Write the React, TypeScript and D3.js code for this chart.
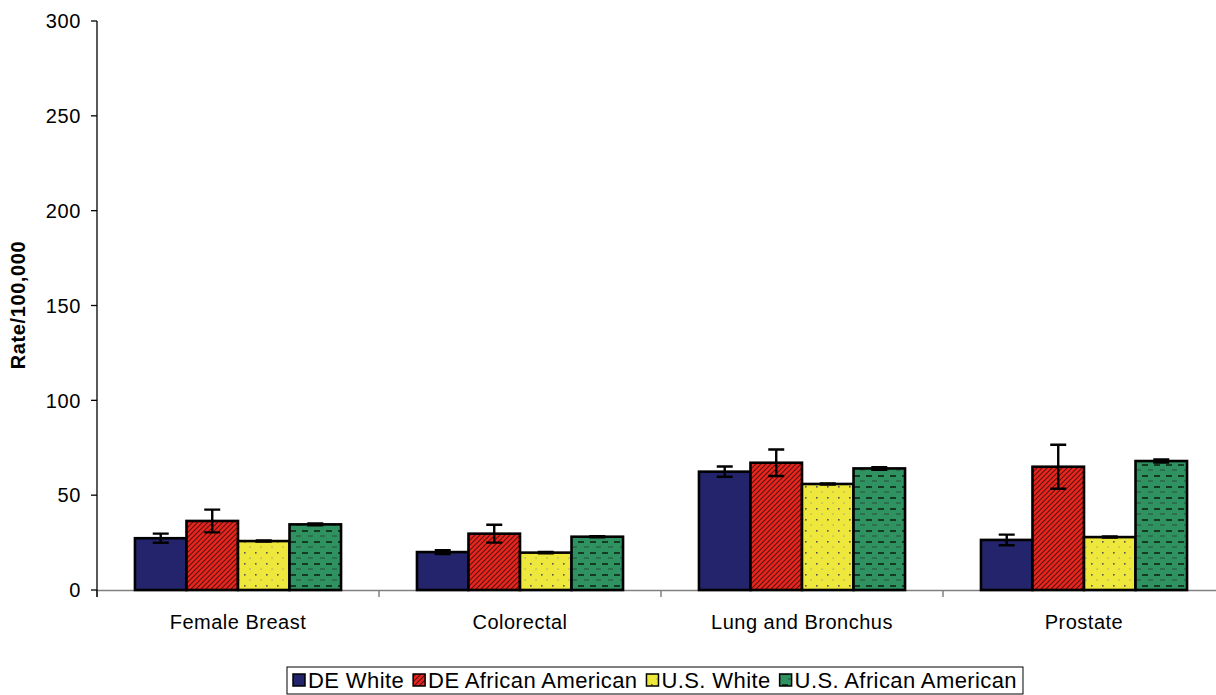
import React, { useEffect, useRef } from "react";
import * as d3 from "d3";

const categories = ["Female Breast", "Colorectal", "Lung and Bronchus", "Prostate"];
const seriesNames = ["DE White", "DE African American", "U.S. White", "U.S. African American"];
const deWhite = [27.3, 20.0, 62.4, 26.4];
const deWhiteErr = [2.4, 1.0, 2.7, 2.8];
const deAA = [36.4, 29.7, 67.1, 65.0];
const deAAErr = [6.0, 4.7, 7.0, 11.6];
const usWhite = [25.8, 19.7, 55.9, 27.9];
const usWhiteErr = [0.3, 0.3, 0.3, 0.3];
const usAA = [34.6, 28.1, 64.1, 68.0];
const usAAErr = [0.5, 0.3, 0.7, 0.8];
const yTicks = [0, 50, 100, 150, 200, 250, 300];

const seriesValues = [deWhite, deAA, usWhite, usAA];
const seriesErrors = [deWhiteErr, deAAErr, usWhiteErr, usAAErr];
const fills = ["#24246c", "url(#pRed)", "url(#pYellow)", "url(#pGreen)"];

const W = 1216;
const H = 695;
const FONT = "Liberation Sans, Arial, sans-serif";

export default function App() {
  const ref = useRef<SVGSVGElement | null>(null);

  useEffect(() => {
    const svg = d3.select(ref.current);
    svg.selectAll("*").remove();

    const defs = svg.append("defs");
    // red hatch
    const pr = defs.append("pattern").attr("id", "pRed").attr("patternUnits", "userSpaceOnUse")
      .attr("width", 5).attr("height", 5);
    pr.append("rect").attr("width", 5).attr("height", 5).attr("fill", "#e8261e");
    pr.append("path").attr("d", "M-1,6 L6,-1 M-2,2 L2,-2 M3,7 L7,3").attr("stroke", "#5a1010").attr("stroke-width", 1.1);
    // yellow dots
    const py = defs.append("pattern").attr("id", "pYellow").attr("patternUnits", "userSpaceOnUse")
      .attr("width", 11).attr("height", 11);
    py.append("rect").attr("width", 11).attr("height", 11).attr("fill", "#efe83c");
    py.append("rect").attr("x", 2).attr("y", 2).attr("width", 1.6).attr("height", 1.6).attr("fill", "#555");
    py.append("rect").attr("x", 7.5).attr("y", 7.5).attr("width", 1.1).attr("height", 1.1).attr("fill", "#888");
    // green dashes
    const pg = defs.append("pattern").attr("id", "pGreen").attr("patternUnits", "userSpaceOnUse")
      .attr("width", 12).attr("height", 11);
    pg.append("rect").attr("width", 12).attr("height", 11).attr("fill", "#2e9261");
    pg.append("rect").attr("x", 2).attr("y", 2).attr("width", 6).attr("height", 2).attr("fill", "#173a25");
    pg.append("rect").attr("x", 8).attr("y", 7.5).attr("width", 5).attr("height", 1).attr("fill", "#2b4f3a");
    pg.append("rect").attr("x", 0).attr("y", 7.5).attr("width", 1).attr("height", 1).attr("fill", "#2b4f3a");

    const x0 = 97, x1 = 1225, yTop = 21, yBot = 590;
    const y = d3.scaleLinear().domain([0, 300]).range([yBot, yTop]);
    const xCat = d3.scaleBand<string>().domain(categories).range([x0, x1]).paddingInner(0).paddingOuter(0);
    const xSer = d3.scaleBand<string>().domain(seriesNames).range([0, xCat.bandwidth()])
      .paddingInner(0).paddingOuter(0.737);

    // x axis line (gray)
    svg.append("line").attr("x1", x0).attr("x2", W).attr("y1", yBot + 0.5).attr("y2", yBot + 0.5)
      .attr("stroke", "#808080").attr("stroke-width", 1.5);
    const bounds = categories.map((c) => xCat(c) as number).concat([x1]);
    svg.selectAll("line.ct").data(bounds).enter().append("line")
      .attr("x1", (d) => d).attr("x2", (d) => d).attr("y1", yBot).attr("y2", yBot + 7)
      .attr("stroke", "#808080").attr("stroke-width", 1.5);

    // y axis
    svg.append("line").attr("x1", x0).attr("x2", x0).attr("y1", yTop).attr("y2", yBot + 7)
      .attr("stroke", "#000").attr("stroke-width", 1.3);
    const yt = svg.selectAll("g.yt").data(yTicks).enter().append("g");
    yt.append("line").attr("x1", x0 - 6).attr("x2", x0).attr("y1", (d) => y(d)).attr("y2", (d) => y(d))
      .attr("stroke", "#000").attr("stroke-width", 1.3);
    yt.append("text").attr("x", 81).attr("y", (d) => y(d)).attr("dy", "0.36em")
      .attr("text-anchor", "end").attr("font-family", FONT).attr("font-size", 20)
      .attr("letter-spacing", 0.6).text((d) => String(d));

    // category labels
    svg.selectAll("text.cat").data(categories).enter().append("text")
      .attr("x", (d) => (xCat(d) as number) + xCat.bandwidth() / 2).attr("y", 629)
      .attr("text-anchor", "middle").attr("font-family", FONT).attr("font-size", 20)
      .attr("letter-spacing", 0.5).text((d) => d);

    // y label
    svg.append("text").attr("transform", `translate(25,${305}) rotate(-90)`)
      .attr("text-anchor", "middle").attr("font-family", FONT).attr("font-size", 20)
      .attr("font-weight", "bold").attr("letter-spacing", 0.6).text("Rate/100,000");

    // bars
    seriesNames.forEach((s, si) => {
      const g = svg.append("g");
      categories.forEach((c, ci) => {
        const v = seriesValues[si][ci];
        const e = seriesErrors[si][ci];
        const bx = (xCat(c) as number) + (xSer(s) as number);
        const bw = xSer.bandwidth();
        g.append("rect").attr("x", bx).attr("y", y(v)).attr("width", bw).attr("height", yBot - y(v))
          .attr("fill", fills[si]).attr("stroke", "#000").attr("stroke-width", 2.6);
        const cx = bx + bw / 2;
        g.append("path")
          .attr("d", `M${cx - 8},${y(v + e)}H${cx + 8}M${cx},${y(v + e)}V${y(v - e)}M${cx - 8},${y(v - e)}H${cx + 8}`)
          .attr("stroke", "#000").attr("stroke-width", 2.4).attr("fill", "none");
      });
    });

    // legend
    const lg = svg.append("g");
    const box = lg.append("rect").attr("y", 667).attr("height", 27).attr("fill", "#fff")
      .attr("stroke", "#000").attr("stroke-width", 1);
    let cur = 293;
    const startX = 287;
    seriesNames.forEach((s, si) => {
      lg.append("rect").attr("x", cur).attr("y", 674).attr("width", 12).attr("height", 12)
        .attr("fill", fills[si]).attr("stroke", "#000").attr("stroke-width", 1.5);
      const t = lg.append("text").attr("x", cur + 15).attr("y", 688).attr("font-family", FONT)
        .attr("font-size", 22).attr("letter-spacing", 0.4).text(s);
      const w = (t.node() as SVGTextElement).getComputedTextLength();
      cur = cur + 15 + w + 9;
    });
    box.attr("x", startX).attr("width", cur - startX - 3);
  }, []);

  return (
    <svg ref={ref} width={W} height={H}
      style={{ position: "absolute", left: 0, top: 0, background: "#fff" }} />
  );
}
